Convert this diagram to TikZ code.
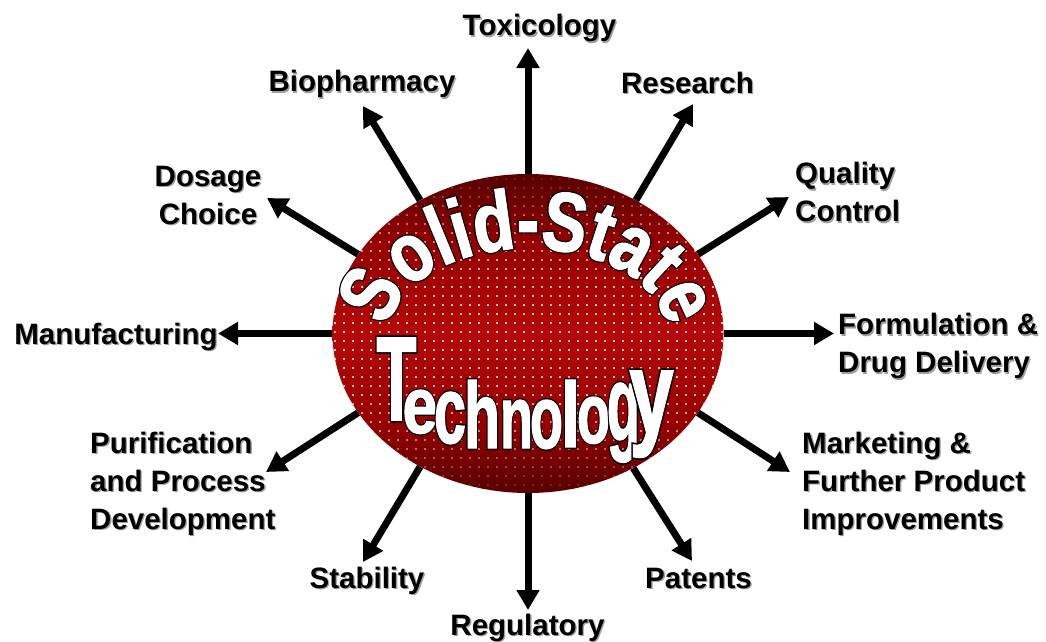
\documentclass[tikz,border=0pt]{standalone}
\usepackage{fontspec}
\usepackage{graphicx}
\setmainfont{Liberation Sans}
\newfontfamily\labfont{Liberation Sans}
\newfontfamily\artfont{Liberation Sans}[FakeStretch=0.79, FakeBold=1.5]
\newfontfamily\artedge{Liberation Sans}[FakeStretch=0.79, FakeBold=4.5]
\usetikzlibrary{arrows.meta,shapes.geometric,decorations.text}

\definecolor{ovaldark}{RGB}{88,0,0}
\definecolor{ovalmid}{RGB}{150,0,0}
\definecolor{ovalbright}{RGB}{182,8,8}
\definecolor{shadowgray}{RGB}{160,160,160}

% dark at top and bottom, bright band through the middle
\pgfdeclareverticalshading{ovalshade}{100bp}{color(0bp)=(ovaldark); color(25bp)=(ovaldark); color(36bp)=(ovalmid); color(50bp)=(ovalbright); color(64bp)=(ovalmid); color(75bp)=(ovaldark); color(100bp)=(ovaldark)}

\newcommand\artstyle{\artfont\bfseries\fontsize{84}{84}\selectfont}
\newcommand\edgestyle{\artedge\bfseries\fontsize{84}{84}\selectfont}
\newcommand\wordstyle{\artfont\bfseries\fontsize{80}{80}\selectfont}
\newcommand\wordedge{\artedge\bfseries\fontsize{80}{80}\selectfont}

\tikzset{
  lab/.style={font=\labfont\bfseries\fontsize{29.5}{38}\selectfont, inner sep=0pt},
  spoke/.style={line width=7pt, -{Triangle[length=20pt,width=22pt]}},
  art/.style={inner sep=0pt, anchor=base, font=\wordstyle},
  artedge/.style={inner sep=0pt, anchor=base, font=\wordedge},
}

% label with a soft grey drop shadow: name, options, position, text
\newcommand\lbl[4]{%
  \node[lab,text=shadowgray,#2,xshift=1.3pt,yshift=-1.3pt] (#1-sh) at #3 {#4};
  \node[lab,#2] (#1) at #3 {#4};}

\begin{document}
\begin{tikzpicture}[x=1pt,y=1pt]
\useasboundingbox (0,0) rectangle (1046,-642);
\fill[white] (0,0) rectangle (1046,-642);

% central oval
\node[ellipse, minimum width=391pt, minimum height=319pt, inner sep=0pt,
      shade, shading=ovalshade] (core) at (528,-333.5) {};

% white dot screen over the oval
\begin{scope}
  \clip (core.center) ellipse [x radius=195.5pt, y radius=159.5pt];
  \foreach \yy in {0,...,35}{
    \pgfmathsetmacro\op{max(0.08,0.8-0.75*((178+\yy*9-333.5)/160)^2)}
    \foreach \xx in {0,...,44}{
      \fill[white, opacity=\op] (334+\xx*9,-178-\yy*9) rectangle ++(1.7,-1.7);
    }
  }
\end{scope}

% arched title: black outline first, white face on top
\path[decorate, decoration={text along path, text align=center,
      text={|\edgestyle\color{black}|Solid-State}}]
  (core.center) ++(180:139pt and 85pt)
  arc[start angle=180, end angle=0, x radius=139pt, y radius=85pt];
\path[decorate, decoration={text along path, text align=center,
      text={|\artstyle\color{white}|Solid-State}}]
  (core.center) ++(180:139pt and 85pt)
  arc[start angle=180, end angle=0, x radius=139pt, y radius=85pt];

% second word, each letter stretched on its own
\foreach \x/\b/\w/\h/\c [count=\i] in {
  396.5/420/40/82/T, 420/433/35/43/e, 450/443/32/51/c, 482/448/36/68/h,
  516.5/448/33/48/n, 546.5/448/33/48/o, 570.5/447/19/67/l, 593.5/443/33/46/o,
  623.5/440/33/57/g, 651.5/433/44/62/y}{
  \node[artedge, text=black] (tk\i-edge) at (\x,-\b) {\resizebox{\w pt}{\h pt}{\c}};
  \node[art, text=white] (tk\i) at (\x,-\b) {\resizebox{\w pt}{\h pt}{\c}};
}

% arrow tips
\coordinate (tox-tip) at (528,-48);
\coordinate (reg-tip) at (528,-610);
\coordinate (man-tip) at (218,-333.5);
\coordinate (for-tip) at (834,-333.5);
\coordinate (bio-tip) at (363,-106);
\coordinate (res-tip) at (693,-104);
\coordinate (dos-tip) at (267,-198);
\coordinate (qua-tip) at (789,-197);
\coordinate (pur-tip) at (266,-472);
\coordinate (mkt-tip) at (790,-472);
\coordinate (sta-tip) at (363,-562);
\coordinate (pat-tip) at (692,-561);

\draw[spoke] (core.90)    -- (tox-tip);
\draw[spoke] (core.270)   -- (reg-tip);
\draw[spoke] (core.180)   -- (man-tip);
\draw[spoke] (core.0)     -- (for-tip);
\draw[spoke] (core.129)   -- (bio-tip);
\draw[spoke] (core.51)    -- (res-tip);
\draw[spoke] (core.155)   -- (dos-tip);
\draw[spoke] (core.25)    -- (qua-tip);
\draw[spoke] (core.205)   -- (pur-tip);
\draw[spoke] (core.335)   -- (mkt-tip);
\draw[spoke] (core.231.5) -- (sta-tip);
\draw[spoke] (core.308.5) -- (pat-tip);

% labels
\lbl{tox}{anchor=base}{(539.5,-36)}{Toxicology}
\lbl{bio}{anchor=base}{(362,-92)}{Biopharmacy}
\lbl{res}{anchor=base}{(687.5,-93)}{Research}
\lbl{dos}{align=center}{(208,-195.3)}{Dosage\\Choice}
\lbl{qua}{align=left,anchor=west}{(795,-192.2)}{Quality\\Control}
\lbl{man}{anchor=base}{(116,-344)}{Manufacturing}
\lbl{for}{align=left,anchor=west}{(838,-346.4)}{Formulation \&\\Drug Delivery}
\lbl{pur}{align=left,anchor=west}{(90,-484)}{Purification\\and Process\\Development}
\lbl{mkt}{align=left,anchor=west}{(802,-484)}{Marketing \&\\Further Product\\Improvements}
\lbl{sta}{anchor=base}{(367,-588)}{Stability}
\lbl{pat}{anchor=base}{(698.5,-588)}{Patents}
\lbl{reg}{anchor=base}{(527.5,-635)}{Regulatory}
\end{tikzpicture}
\end{document}
